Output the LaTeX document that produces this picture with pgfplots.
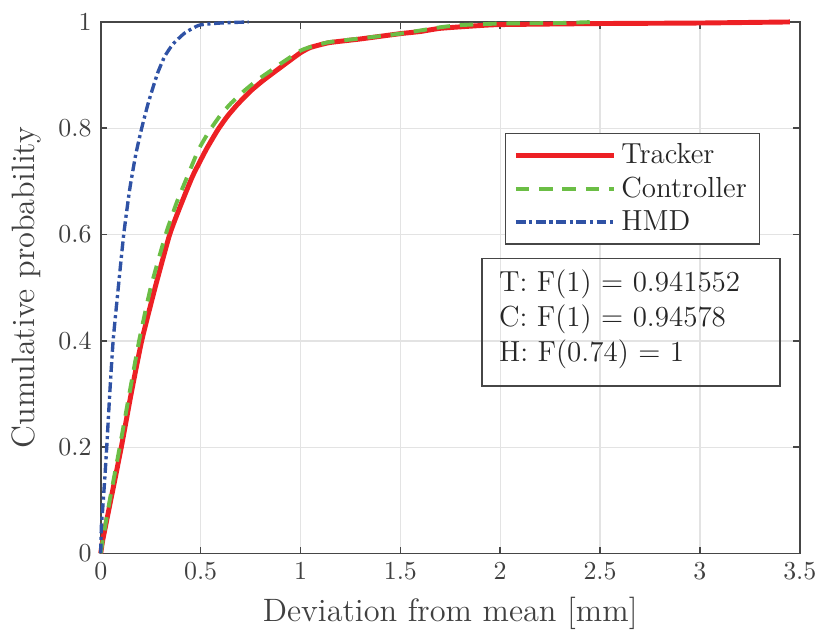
\documentclass[border=0pt]{standalone}
\usepackage{pgfplots}
\pgfplotsset{compat=1.18}
\definecolor{cTrack}{RGB}{237,32,36}
\definecolor{cCtrl}{RGB}{107,190,69}
\definecolor{cHmd}{RGB}{47,82,165}
\definecolor{axgray}{RGB}{70,70,70}
\definecolor{txtgray}{RGB}{64,64,64}
\begin{document}
\begin{tikzpicture}
\begin{axis}[
    scale only axis,
    width=269.9pt, height=205.2pt,
    xmin=0, xmax=3.5, ymin=0, ymax=1,
    xtick={0,0.5,...,3.5},
    ytick={0,0.2,...,1},
    grid=major,
    grid style={line width=0.5pt, draw=black!11},
    axis line style={draw=axgray, line width=0.6pt},
    tick style={draw=axgray, line width=0.6pt},
    major tick length=2.6pt,
    tick align=inside,
    xtick pos=both, ytick pos=both,
    ticklabel style={font=\fontsize{10}{12}\selectfont, text=txtgray},
    label style={font=\fontsize{12.5}{15}\selectfont, text=txtgray},
    xlabel={Deviation from mean [mm]},
    ylabel={Cumulative probability},
    legend cell align=left,
    legend style={at={(0.578,0.7917)}, anchor=north west,
        draw=axgray, line width=0.6pt,
        font=\fontsize{11.2}{13.5}\selectfont, text=black!85,
        inner xsep=3pt, inner ysep=2pt,
        nodes={inner sep=1.8pt}},
    legend image code/.code={\draw[#1] (0pt,0pt) -- (38pt,0pt);},
    clip=false,
]
\addplot[cTrack, line width=1.9pt, smooth, tension=0.3] coordinates {
(0,0) (0.01,0.025) (0.05,0.1) (0.103,0.2) (0.152,0.3) (0.205,0.4) (0.272,0.5)
(0.345,0.6) (0.40,0.655) (0.46,0.71) (0.528,0.76) (0.586,0.797) (0.635,0.823)
(0.685,0.845) (0.75,0.87) (0.81,0.889) (0.87,0.906) (0.927,0.922) (1.0,0.942)
(1.05,0.952) (1.143,0.961) (1.3,0.968) (1.5,0.978) (1.6,0.982) (1.7,0.988)
(1.89,0.993) (2.0,0.995) (2.5,0.997) (3.0,0.998) (3.45,1.0)
};
\addlegendentry{Tracker}
\addplot[cCtrl, line width=1.5pt, dash pattern=on 5.2pt off 3.8pt, smooth, tension=0.3] coordinates {
(0,0) (0.01,0.025) (0.045,0.1) (0.095,0.2) (0.143,0.3) (0.192,0.4) (0.25,0.5)
(0.325,0.6) (0.38,0.66) (0.44,0.715) (0.49,0.76) (0.544,0.795) (0.60,0.825)
(0.652,0.847) (0.72,0.871) (0.785,0.891) (0.85,0.908) (0.91,0.924) (1.0,0.946)
(1.05,0.953) (1.143,0.962) (1.3,0.969) (1.5,0.978) (1.7,0.99) (1.8,0.994)
(2.0,0.997) (2.3,0.998) (2.47,1.0)
};
\addlegendentry{Controller}
\addplot[cHmd, line width=1.3pt, dash pattern=on 3.8pt off 1.4pt on 1.2pt off 1.4pt, smooth, tension=0.3] coordinates {
(0,0) (0.003,0.05) (0.01,0.085) (0.02,0.14) (0.03,0.2) (0.045,0.3) (0.062,0.4)
(0.087,0.497) (0.115,0.6) (0.145,0.685) (0.175,0.75) (0.205,0.8) (0.236,0.845)
(0.261,0.876) (0.286,0.905) (0.32,0.935) (0.361,0.958) (0.42,0.979) (0.494,0.994)
(0.6,0.998) (0.74,1.0)
};
\addlegendentry{HMD}
\draw[axgray, line width=0.6pt] (rel axis cs:0.545,0.3152) rectangle (rel axis cs:0.9715,0.5553);
\node[anchor=base west, inner sep=0pt, font=\fontsize{11.2}{13.5}\selectfont, text=black!85]
  at (rel axis cs:0.569,0.4925) {T: F(1) = 0.941552};
\node[anchor=base west, inner sep=0pt, font=\fontsize{11.2}{13.5}\selectfont, text=black!85]
  at (rel axis cs:0.569,0.4268) {C: F(1) = 0.94578};
\node[anchor=base west, inner sep=0pt, font=\fontsize{11.2}{13.5}\selectfont, text=black!85]
  at (rel axis cs:0.569,0.3612) {H: F(0.74) = 1};
\path (rel axis cs:-0.1441,-0.1576) rectangle (rel axis cs:1.0328,1.0413);
\end{axis}
\end{tikzpicture}
\end{document}
